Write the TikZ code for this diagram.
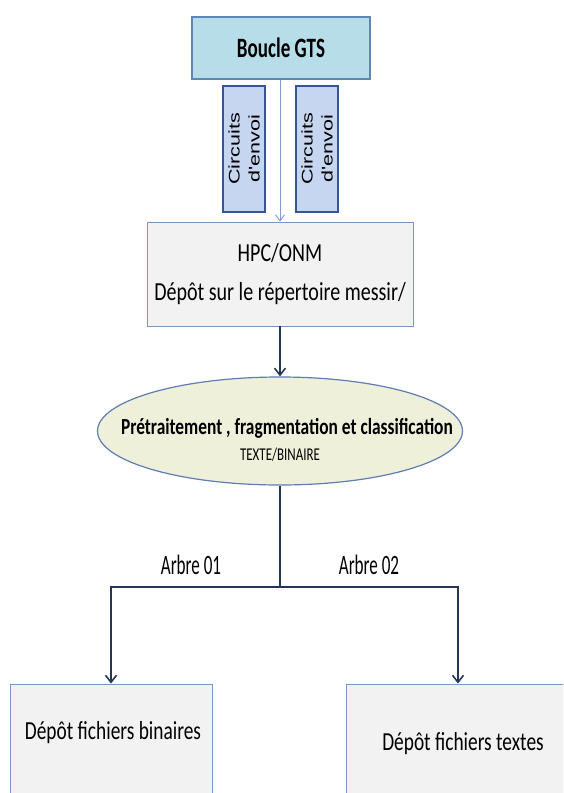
\documentclass[tikz,border=0pt]{standalone}
\usepackage{fontspec}
\setmainfont{Carlito}
\newfontfamily\hpcfont{Carlito}[FakeStretch=0.77]
\newfontfamily\gtsfont{Carlito}[FakeStretch=0.68]
\newfontfamily\ellfont{Carlito}[FakeStretch=0.756]
\newfontfamily\smallfont{Carlito}[FakeStretch=0.72]
\newfontfamily\arbrefont{Carlito}[FakeStretch=0.61]
\newfontfamily\depotfont{Carlito}[FakeStretch=0.745]
\newfontfamily\circfont{Liberation Sans}[FakeStretch=1.4]
\usepackage{tikz}
\usetikzlibrary{shapes.geometric,arrows.meta}

\definecolor{gtsfill}{RGB}{183,221,232}
\definecolor{gtsline}{RGB}{96,132,182}
\definecolor{circfill}{RGB}{198,213,240}
\definecolor{circline}{RGB}{55,85,150}
\definecolor{boxfill}{RGB}{242,242,242}
\definecolor{boxline}{RGB}{120,150,200}
\definecolor{ellfill}{RGB}{238,240,218}
\definecolor{ellline}{RGB}{95,125,180}
\definecolor{navy}{RGB}{38,55,85}
\definecolor{thinarrow}{RGB}{125,155,205}

\tikzset{
  gtsbox/.style={draw=gtsline, line width=1.2pt, fill=gtsfill, minimum width=178pt, minimum height=62pt, inner sep=0pt},
  circbox/.style={draw=circline, line width=1.2pt, fill=circfill, minimum width=42pt, minimum height=126pt, inner sep=0pt},
  circlabel/.style={rotate=90, align=center, inner sep=0pt, font=\circfont\fontsize{15.4}{20}\selectfont},
  greybox/.style={draw=boxline, line width=0.9pt, fill=boxfill, inner sep=0pt},
  navyline/.style={draw=navy, line width=2.2pt},
  navyarrow/.style={navyline, -{Straight Barb[length=7pt,width=11pt,line width=1.6pt]}},
  depotlabel/.style={font=\depotfont\fontsize{26}{30}\selectfont},
  arbrelabel/.style={font=\arbrefont\fontsize{28}{30}\selectfont}
}

\begin{document}
\begin{tikzpicture}[x=1pt, y=-1pt]
    \useasboundingbox (0,0) rectangle (563,793);
    \clip (0,0) rectangle (563,793);

    % source
    \node[gtsbox, font=\gtsfont\fontsize{28}{30}\selectfont\bfseries] (gts) at (281,48) {Boucle GTS};
    \node[circbox] (circA) at (244,149) {};
    \node[circbox] (circB) at (317,149) {};
    \node[circlabel] (circAtxt) at (circA) {Circuits\\d'envoi};
    \node[circlabel] (circBtxt) at (circB) {Circuits\\d'envoi};

    % depot HPC
    \node[greybox, minimum width=266pt, minimum height=104pt, align=center,
          font=\hpcfont\fontsize{26}{39}\selectfont] (hpc) at (280,274)
        {HPC/ONM\\Dépôt sur le répertoire messir/};
    \draw[thinarrow, line width=0.9pt, -{Straight Barb[length=6pt,width=9pt]}] (gts.south -| hpc) -- (hpc.north);

    % traitement
    \node[ellipse, draw=ellline, line width=1.2pt, fill=ellfill, minimum width=365pt, minimum height=108pt, inner sep=0pt] (ell) at (280,431) {};
    \node[inner sep=0pt, font=\ellfont\fontsize{23}{25}\selectfont\bfseries] (elltxt) at (287,428)
        {Prétraitement , fragmentation et classification};
    \node[inner sep=0pt, font=\smallfont\fontsize{18}{20}\selectfont] (elltype) at (280,455) {TEXTE/BINAIRE};
    \draw[navyarrow] (hpc.south) -- (ell.north);

    % depots
    \node[greybox, minimum width=202pt, minimum height=140pt] (bin) at (111,754) {};
    \node[greybox, minimum width=224pt, minimum height=140pt] (txt) at (458,754) {};
    \node[depotlabel] (bintxt) at (113,733) {Dépôt fichiers binaires};
    \node[depotlabel] (txttxt) at (463,744) {Dépôt fichiers textes};

    \coordinate (split) at (280,587);
    \draw[navyline] (ell.south) -- (split);
    \draw[navyarrow] (split) -| (bin.north);
    \draw[navyarrow] (split) -| (txt.north);
    \node[arbrelabel] (arbreA) at (191,565) {Arbre 01};
    \node[arbrelabel] (arbreB) at (369,565) {Arbre 02};
\end{tikzpicture}
\end{document}
